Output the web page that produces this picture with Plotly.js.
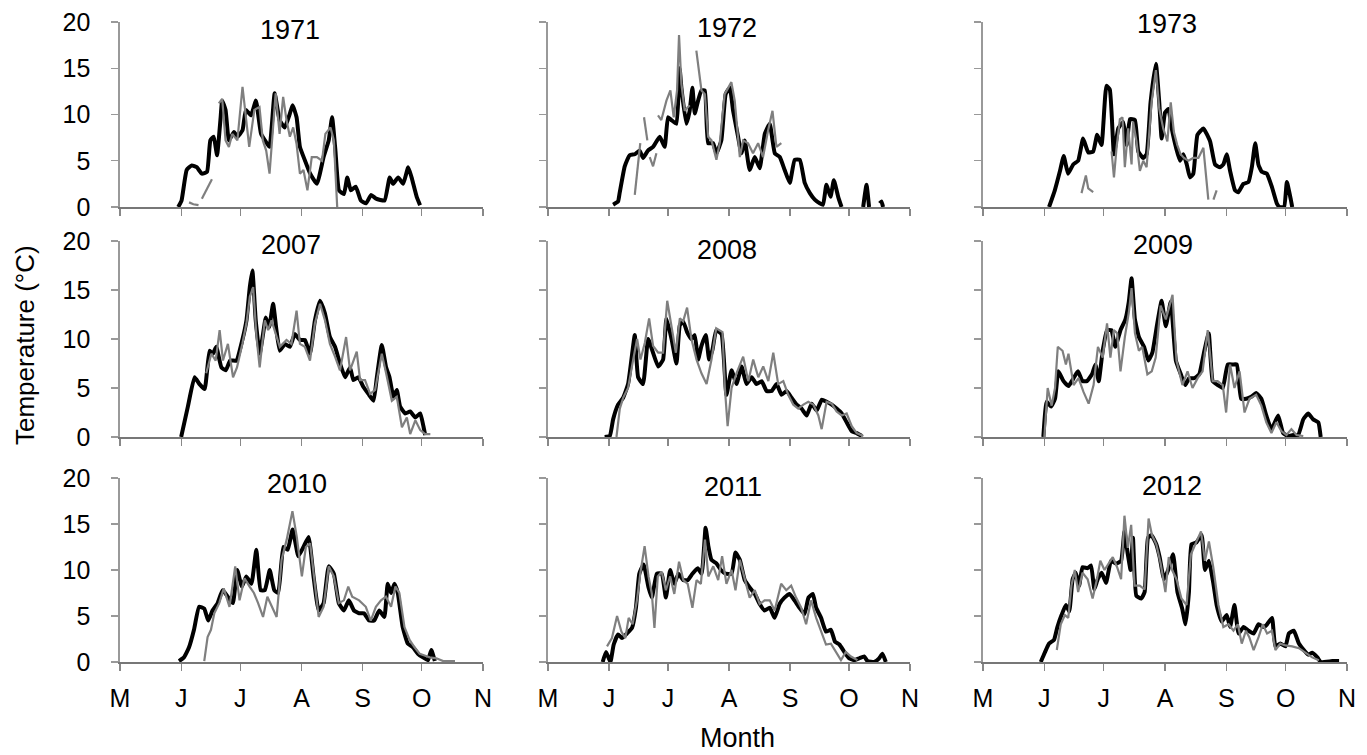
<!DOCTYPE html>
<html><head><meta charset="utf-8">
<script src="https://cdn.plot.ly/plotly-3.0.1.min.js"></script>
<style>html,body{margin:0;padding:0;background:#fff}#chart{width:1367px;height:755px}</style>
</head><body><div id="chart"></div>
<script>
// x = days since 1 May, y = temperature (°C); null = gap in the record
const years = ['1971','1972','1973','2007','2008','2009','2010','2011','2012'];
const monthTickVals = [0,31,61,92,123,153,184];
const monthTickText = ['M','J','J','A','S','O','N'];
const tempTickVals = [0,5,10,15,20];

const black1971 = [[29.5,0],[31.2,0.7],[33.8,4],[36.4,4.5],[38.9,4.3],[41.5,3.6],[44.1,3.8],[45.8,7.2],[47.5,7.6],[49.2,5.6],[50.9,9.4],[51.8,11.5],[53.5,10.5],[55.2,7.2],[57.8,8.1],[59.5,7.6],[62.1,8.3],[63.8,10.5],[66.4,9.9],[68.9,11.5],[71.5,7.9],[74.1,7.0],[75.8,6.5],[78.4,12.3],[80.9,9.4],[83.5,8.6],[86.1,10.1],[87.5,11],[89.5,9.7],[91.2,6.5],[93.8,5],[96.4,3.6],[99.8,2.5],[103.2,5.4],[105.8,7.2],[107.5,9.7],[109.2,6.1],[111,1.8],[113.5,1.4],[115.2,3.2],[117,1.8],[119.5,2.2],[122.1,0.7],[124.7,0.4],[127.3,1.3],[129.8,0.9],[134.1,0.7],[136.7,3.2],[138.4,2.5],[141,3.2],[143.5,2.5],[146.1,4.3],[147.8,3.2],[150.4,1.1],[152.1,0.2]];
const grey1971 = [[35,0.5],[37.2,0.3],[39.8,0.2],null,[41.5,0.9],[44.1,1.9],[46.6,3.0],null,[50.1,11.2],[51.8,11.7],[53.5,7.2],[55.2,6.5],[56.9,7.9],[59.5,7.2],[62.1,13],[62.9,11.5],[65.5,6.5],[68.1,10.5],[70.7,10.8],[72.4,7.2],[74.1,6.1],[75.8,3.6],[77.5,8.6],[78.9,12.3],[80.9,7.9],[82.7,11.9],[84.4,9.4],[86.1,7.6],[87.8,8.6],[89.5,6.8],[91.2,3.6],[93,4],[95,1.8],[97.2,5.4],[99.8,5.4],[102.4,5],[104.1,7.9],[106.7,8.6],[108.4,7.2],[110.1,0]];

const black1972 = [[33.1,0.25],[35.6,0.6],[36.4,1.5],[39,4.4],[41.5,5.6],[44.1,5.7],[46.6,6.1],[48.3,5.3],[50.8,6.1],[53.4,6.5],[56.8,7.6],[59.3,6.5],[61,9.7],[62.7,9.4],[65.3,9],[66.9,15],[67.8,12.9],[70.3,9],[72,10.4],[73.4,12.9],[74.6,10.1],[76.3,11.5],[78,12.6],[79.7,12.6],[81.4,6.9],[83.9,6.9],[85.6,5.8],[88.1,7.2],[90.3,12.2],[92.4,12.9],[94.1,10.4],[96.6,7.6],[98.3,5.8],[100,7.2],[102.5,4],[105.1,5.4],[107.6,4.2],[110.2,7.9],[112.7,9],[115.3,5.8],[117.8,5.4],[120.3,4],[122.9,2.6],[125.4,5.1],[128,5.1],[130.5,2.6],[133.1,1.5],[135.6,0.8],[138.1,0.4],[139.8,0.25],[141.5,2.4],[143.6,1.1],[145.3,2.9],[147.5,1.1],[149.2,0],null,[160.2,0],[161.9,2.4],[163.2,0],null,[168.6,0.4],[169.5,0.6],[170.3,0]];
const grey1972 = [[44.1,1.3],[46.9,6.9],null,[48.8,9.7],[50.5,7.2],null,[51.7,5.4],[53.4,4.4],[55.1,5.8],null,[55.9,9.9],[57.6,9.4],[60.2,11.5],[62.2,12.6],[63.9,9.7],[65.6,12.6],[66.6,18.6],[67.8,13.3],[69.5,10.4],[72,11],null,[75.4,16.9],[78,12.6],[79.7,12.2],[81.4,7.6],[83.1,7.2],[85.6,5.1],[87.3,6.9],[89.8,12.2],[93.2,13.5],[94.9,11.5],[97.5,5.4],[99.2,7.2],[101.7,6.9],[104.2,5.8],[106.8,6.9],[109.3,5.4],[111.9,8.3],[114.1,10.4],[116.1,6.5],[118.6,6.9]];

const black1973 = [[33.4,0],[36.3,1.8],[38.8,3.8],[40.8,5.5],[43,3.6],[45.6,4.6],[48.1,5],[50.6,7.4],[53.2,5.9],[55.7,6],[57.7,7.8],[59.9,6.7],[62.4,13.1],[64.1,12.7],[66.2,5.7],[68.4,8.5],[70.9,9.2],[72.6,6.7],[74.3,9.5],[76.8,9.4],[78.5,6],[81,5.3],[82.7,5.7],[84.7,11.3],[87.4,15.5],[89.1,11.3],[90.3,7.4],[92,10.2],[93.7,10.6],[95.4,8.5],[97.6,6.4],[99.6,5],[101.3,5.7],[103,4.6],[104.6,3.2],[106.3,3.6],[108.4,7.8],[111.4,8.5],[114.8,7.1],[117.3,4.6],[119.8,4.3],[121.5,4.6],[123.2,5.7],[124.9,3.9],[127.4,1.8],[129.1,1.6],[131.6,2.5],[134.2,2.7],[135.9,4.3],[137.6,6.9],[139.2,4.6],[140.9,3.8],[143.5,3.6],[146,2.2],[148.5,0.4],[149.9,0],[152.2,0],[153.6,2.7],[155.6,0.8],[156.3,0]];
const grey1973 = [[49.8,1.5],[52,3.4],[53.2,2],[55.7,1.6],null,[65,6],[66.2,3.2],[67.5,6.4],[69.2,9.5],[70.5,9.7],[71.7,4.3],[73.4,8.5],[75.1,4.6],[75.9,9.2],[77.6,7.1],[79.3,3.9],[81,5],[82.7,4.3],[85.2,11.3],[87.4,14.8],[89.1,10.6],[91.1,8.5],[93.2,7.1],[94.9,11.3],[96.5,8.1],[98.2,6.7],[99.9,5.7],[101.6,5.3],[103.8,5],[106.3,5.3],[108.9,5.3],[111.4,6.4],[113.9,0.8],null,[116.5,0.8],[118.1,1.8]];

const black2007 = [[31,0],[34.4,3.1],[37.8,6.1],[40.3,5.4],[42.9,4.9],[45.4,8.8],[47.1,8.5],[48.8,9.2],[51.4,7.1],[53.6,6.8],[55.9,7.8],[59,7.8],[62,9.9],[64.1,11.9],[65.8,15.3],[67.1,17],[68.8,11.9],[70.8,8.5],[72.5,10.5],[73.9,12.2],[75.6,11.2],[77.6,13.6],[79.3,10.9],[81,8.8],[83.6,9.5],[86.1,9.2],[88.6,10.5],[91.2,9.9],[93.7,9.9],[96.3,8.5],[98.8,11.9],[101.4,13.9],[103.9,12.6],[106.4,10.2],[109,9.2],[111.5,7.5],[114.1,6.1],[116.6,7.1],[118.3,5.8],[120.8,6.1],[123.4,5.1],[125.9,4.4],[128.5,3.7],[130.2,6.1],[132.7,9.4],[134.9,7.1],[136.6,6.1],[138.6,4.1],[140.3,4.8],[142,3.1],[144.6,2.4],[147.1,2.6],[149.7,2],[152.2,2.4],[153.9,1],[154.7,0.2]];
const grey2007 = [[43.7,6.5],[46.3,8.5],[48.5,7.8],[50.5,10.9],[52.2,7.8],[54.7,9.5],[57.3,6.1],[59.3,7.1],[62,9.5],[64.1,11.6],[65.8,14.3],[67.5,15.3],[69.2,10.2],[70.8,7.1],[73.4,11.9],[75.1,10.9],[76.8,11.9],[78.5,10.9],[81,9.2],[84.4,9.9],[86.9,9.5],[89.5,12.9],[91.2,9.5],[93.7,9.2],[96.3,7.8],[98.8,11.6],[101.4,13.6],[103.9,11.9],[106.4,9.5],[109,8.2],[111.5,6.8],[114.6,10.2],[116.6,6.8],[120,8.7],[121.7,5.8],[124.2,5.8],[126.8,4.4],[129.3,4.8],[132.7,8.5],[134.9,6.5],[137.8,3.7],[140.3,4.1],[142.9,1],[145.4,2],[147.1,0.3],[149.7,1.7],[152.2,0.7],[154.7,0.3],[157.3,0.3]];

const black2008 = [[28.8,0],[31.4,0.1],[33.1,1.8],[35.6,3.3],[38.2,4],[40.7,5.4],[42.4,7.9],[44.1,10.4],[45.8,6.1],[48.3,5.4],[50.9,10],[53.4,8.6],[56,7.2],[58.5,7.9],[60.2,12.1],[62.8,10],[65.3,7.5],[67,11.4],[68.7,11.8],[70.7,10.7],[72.9,10],[74.6,10.4],[76.3,7.9],[78,9.3],[80.2,10.4],[81.9,7.9],[83.6,8.9],[85.5,10.9],[88.2,10.5],[90.7,4.3],[93.3,6.8],[95.8,5.4],[98.4,7.2],[100.9,5.4],[103.5,6.1],[106,5.4],[108.6,5.7],[111.1,4.7],[113.7,4.7],[116.2,5.4],[118.7,4.3],[121.3,4.7],[123.8,4],[126.4,3.3],[128.9,2.9],[131.5,2.2],[134,3.4],[136.6,2.7],[139.1,3.8],[141.6,3.6],[144.2,3.3],[146.7,2.9],[149.3,2.4],[151.8,1.5],[154.4,0.6],[156.9,0.4],[159.5,0.1]];
const grey2008 = [[34.8,0],[36.5,2.9],[38.2,4],[40.7,5],[43.3,7.9],[45.3,10],[47,7.9],[49.2,9.6],[51.4,12.1],[53.4,9.3],[56,8.6],[58.5,8.6],[60.6,13.9],[62.8,11.1],[65,8.6],[67,12.1],[68.7,11.8],[70.7,13.2],[72.9,10],[75.5,7.9],[78,6.5],[80.6,5.4],[83.1,7.9],[85.5,11.1],[88.7,10.7],[89.9,5],[91.3,1.1],[93.3,5],[95.8,6.5],[99.2,8.2],[101.8,5.7],[104.3,7.9],[106.9,6.1],[109.4,7.2],[112,5.7],[114.5,8.6],[117,5.4],[119.6,5.7],[122.1,4.3],[124.7,3.3],[127.2,2.9],[129.8,3.3],[132.3,3.6],[134.9,3.3],[137.4,2.2],[139.1,0.8],[141.6,3.6],[144.2,3.4],[146.7,2.6],[149.3,2.2],[151.8,2.4],[154.4,1.1],[156.9,0.4],[160.3,0.1]];

const black2009 = [[30.5,0],[32.2,3.6],[34.4,3.1],[36.4,3.9],[38.1,6.7],[40.7,5.7],[43.2,5.2],[45.8,6],[48,6.7],[50.3,5.7],[52.5,5.7],[55.1,6.4],[56.8,7.4],[58.5,5.7],[60.5,8.8],[62.7,10.9],[64.9,10.9],[66.9,9.2],[69.5,10.9],[72,12],[73.7,13.8],[75.1,16.2],[76.8,12],[78.8,10.2],[81.4,9.2],[83.6,7.8],[85.6,8.6],[88.1,11.6],[90.3,13.9],[92.4,11.3],[94.9,13.8],[97.5,7.8],[100,6.4],[102.2,5.3],[104.2,6],[106.8,6],[109.3,6.4],[111.9,8.8],[114.1,10.6],[116.1,5.7],[118.6,5.3],[121.2,5],[123.7,7.4],[126.3,7.4],[128.3,7.4],[130.5,3.9],[133.1,3.9],[135.6,4.1],[138.1,4.5],[140.7,3.9],[143.2,2.2],[145.8,0.8],[149.2,2.2],[151.7,0.4],[154.2,0.1],[156.8,0.2],[159.3,0.2],[161.9,1.8],[164.4,2.4],[166.9,1.8],[169.5,1.5],[170.7,0]];
const grey2009 = [[31,0],[32.7,5],[34.7,3.2],[36.4,5],[37.8,9.2],[40.2,8.8],[41.9,7.4],[43.2,8.5],[45.8,5.3],[48.3,6],[50.8,4.6],[53.4,3.4],[55.9,5.3],[58.1,9.2],[60.5,8.1],[62.7,11.6],[64.4,8.1],[66.1,10.9],[67.8,10.6],[69.5,6.7],[71.7,10.2],[73.7,12.7],[75.1,15.2],[76.8,10.6],[78.8,8.8],[80.5,9.2],[83.1,6.4],[85.3,6.7],[87.3,8.1],[89.8,13.4],[92.4,12],[95.8,14.5],[97.8,7.8],[100.8,5.3],[103.4,6.7],[105.9,5],[108.5,6],[111,6.7],[113.6,10.9],[116.1,5.7],[118.6,5.7],[121.2,5.3],[122.9,2.5],[124.9,7.4],[127.1,5],[129.7,6.7],[132.2,2.5],[134.7,3.9],[138.1,4.3],[140.7,3.2],[143.2,1.5],[145.8,0.4],[148.3,1.5],[150.8,0.6],[153.4,0.2],[155.9,0.8],[158.5,0.2],[161.9,0.1]];

const black2010 = [[29.9,0.1],[32.4,0.5],[35,1.6],[37.5,3.5],[40.1,6],[42.7,5.8],[44.7,4.5],[46.9,5.6],[49.5,6.4],[52,7.8],[54.6,7.1],[57.2,6.4],[59.4,10],[61.8,8.2],[64,9.3],[66.6,8.5],[69.1,12.2],[71.3,7.8],[73.4,7.8],[75.9,10],[78.2,7.8],[80.2,7.5],[82.8,12.5],[85,12.2],[87.5,14.4],[90.4,11.5],[93,12.5],[95.6,13.6],[98.1,9.3],[100.7,5.6],[103.2,6.4],[105.8,10.4],[108.4,9.6],[110.9,6.4],[113.5,5.6],[116,6.7],[118.6,5.6],[121.2,5.3],[123.7,5.3],[126.3,4.5],[128.8,4.5],[131.4,5.6],[134,4.9],[135.7,8.5],[137.4,7.5],[139.1,8.5],[140.8,7.5],[143.3,3.8],[145.9,2],[148.5,1.6],[151,0.9],[153.6,0.5],[156.1,0.2],[157.8,1.3],[159.6,0.1]];
const grey2010 = [[42.7,0.1],[44.4,2.7],[46.1,3.5],[47.8,5.3],[50.3,6.4],[52.6,8],[55.5,6],[58.4,10.4],[60.6,6.7],[63.1,9.1],[65.7,8.2],[67.9,7.5],[70,6.4],[72.5,4.9],[74.7,7.1],[77.1,6],[79.4,4.9],[81.9,11.1],[84.5,13.3],[87.4,16.4],[89.6,13.6],[92.2,9.3],[94.2,12.5],[96.4,12.9],[98.6,8.9],[100.7,4.9],[103.2,6],[105.8,10.4],[108.4,9.3],[110.9,6.4],[113.5,6.7],[115.7,8.2],[117.7,7.1],[121.2,6.7],[124.6,6],[127.1,4.5],[129.7,6],[132.3,6.7],[134.8,7.1],[137.4,6],[139.6,8.2],[141.6,7.5],[144.2,3.8],[146.8,2.4],[149.3,1.6],[151.9,0.9],[154.4,0.7],[157,0.5],[160.4,0.4],[163.8,0.1],[169.8,0.1]];

const black2011 = [[27.8,0],[29.5,1.1],[31.7,0],[33.4,1.9],[35.6,3],[37.6,2.6],[40.1,3.1],[42.7,3.7],[44.7,5.9],[46.4,9.6],[48.6,10.6],[51.1,8.1],[52.8,7],[55.3,9.6],[57.8,9.6],[59.9,7],[62.1,10],[64.2,8.5],[66.3,9.6],[68.8,8.9],[71,8.9],[73.4,9.6],[76.1,10.2],[78.1,9.6],[80.1,14.6],[81.5,12.6],[83.1,11.1],[85.7,10.7],[87.9,10],[90.2,9.6],[93.3,9.6],[95.3,11.9],[97.5,11.1],[100,8.9],[102.5,8.1],[105.1,7.4],[107.6,6.3],[110.1,5.6],[112.7,5.9],[115.2,4.8],[117.7,6.3],[120.2,7],[122.8,7.4],[125.3,6.7],[127.8,5.9],[130.4,5.2],[132.4,7],[134.6,7.4],[136.3,5.9],[138.8,4.8],[141.3,3.3],[143.8,3.5],[145.9,2.2],[148.1,1.9],[150.6,1.1],[153.1,0.4],[155.7,0.2],[158.2,0.4],[160.7,0.6],[162.4,0.1],[165.8,0],[168.3,0.4],[170,0.9],[171.7,0]];
const grey2011 = [[30,1.7],[32.5,2.6],[35.1,5],[37.3,3.3],[39.3,2.6],[41,4.8],[43,4.1],[45.2,6.7],[46.9,9.6],[49.1,12.6],[51.1,9.3],[52.8,7.4],[54.1,3.7],[55.8,9.3],[57.8,9.8],[59.9,7.8],[62.1,9.3],[64.2,7.4],[66.6,10.9],[68.8,8.9],[71,8.5],[73.4,5.9],[75.5,8.9],[77.7,8.5],[79.8,13.3],[81.5,9.3],[84,10.4],[86.5,8.9],[88.5,11.5],[90.7,8.5],[93.3,10],[95.3,7.8],[97.5,11.1],[100,8.9],[102.5,7],[105.1,7.8],[107.6,6.3],[110.1,6.7],[112.7,6.7],[115.2,5.6],[118.5,8.5],[121.1,7.8],[123.6,8.3],[126.1,7],[128.7,5.9],[131.2,4.1],[133.7,6.7],[136.3,4.8],[138.8,3.3],[141.3,1.9],[143.8,2],[146.4,1.1],[148.9,0.2],[151.4,1.1],[154,0.6],[157.3,0.2]];

const black2012 = [[29.2,0],[31.2,1],[33.4,2],[35.9,2.4],[37.6,3.8],[39.7,5.1],[41.9,6.2],[43.6,5.5],[45.3,9],[46.9,9.7],[48.6,8.3],[50.3,10.3],[52.9,10.2],[54.6,10.5],[56.3,7.9],[58,9],[60,9.7],[62.2,8.6],[64.7,11],[67.3,10.7],[69.8,11],[71.5,14.2],[73.2,11.7],[74.6,10],[75.8,13.5],[77.5,7.2],[80,6.9],[81.7,7.6],[83.4,13.5],[85.1,13.8],[87.6,12.8],[89.3,11.4],[91.5,9],[93.6,10],[96.1,11.7],[98.3,7.6],[100.7,5.8],[102.4,4.1],[104.1,7.6],[105.4,12.8],[107.9,13],[110.5,13.8],[112.2,10],[114.2,11],[116.4,8.6],[118.1,6.2],[120.7,4.4],[123.2,5.1],[124.9,3.8],[127.1,6.2],[129.2,3.1],[131.7,3.8],[134.2,3.4],[136.8,3.1],[139.3,4.1],[141.9,3.8],[143.6,4.1],[146.1,4.8],[147.8,1.7],[150.3,2],[152.9,1.7],[154.6,3.1],[157.1,3.4],[159.7,2],[162.2,1.3],[164.4,0.8],[166.4,1],[169,0.5],[170.7,0],[176.6,0.1],[180,0.1]];
const grey2012 = [[37.3,1.3],[39.3,4.1],[41.4,5.1],[43.1,4.8],[44.7,8.3],[46.4,10],[48.1,7.6],[50.3,9.7],[52.9,9],[55.4,6.9],[57.6,9],[59.3,11],[61.4,10],[63.4,10.7],[65.6,11.4],[67.8,10.3],[69.8,9],[71.5,15.9],[73.2,12.4],[74.9,14.9],[76.6,8.3],[79.2,8.3],[81.7,7.9],[83.7,15.6],[85.4,13.8],[87.6,12.8],[89.8,10.7],[92.2,7.6],[93.9,11.4],[95.6,10],[97.8,9],[100.3,6.9],[102.9,6.2],[105.1,11.7],[107.5,12.8],[110.2,14.2],[112.2,11],[114.2,13.1],[116.4,10.3],[119,6.2],[121.5,3.8],[124.1,4.1],[126.6,3.4],[128.8,4.1],[130.8,2],[132.9,3.4],[134.6,2.7],[136.8,1.3],[139.3,2.7],[141.4,4.1],[143.6,3.1],[146.1,3.4],[147.8,1.3],[150.3,2],[152.9,1.8],[156.3,1.7],[159.7,1.5],[163.1,1],[166.4,0.5],[169.8,0.2]];

const blackSeries = [black1971,black1972,black1973,black2007,black2008,black2009,black2010,black2011,black2012];
const greySeries = [grey1971,grey1972,grey1973,grey2007,grey2008,grey2009,grey2010,grey2011,grey2012];

// ---------- layout (pixels in the 1367x755 page) ----------
const W = 1367, H = 755;
const colPx = [[120,483],[548,910],[983,1347]];
const rowPx = [[22,207],[241,437],[478,662]];
const titlePx = [[290,30],[727,28],[1167,24],[291,245],[727,250],[1163,245],[297,484],[733,487],[1172,486]];
const FONT = '"Liberation Sans", Arial, Helvetica, sans-serif';

const xs = s => s.map(p => p ? p[0] : null);
const ys = s => s.map(p => p ? p[1] : null);

const traces = [];
const layout = {
  width: W, height: H,
  margin: {l:0, r:0, t:0, b:0},
  showlegend: false,
  paper_bgcolor: '#ffffff',
  plot_bgcolor: 'rgba(0,0,0,0)',
  font: {family: FONT, color: '#000'},
  annotations: []
};

years.forEach((yr, i) => {
  const r = Math.floor(i / 3), c = i % 3;
  const xa = 'x' + (i + 1), ya = 'y' + (i + 1);
  const xk = i === 0 ? 'xaxis' : 'xaxis' + (i + 1);
  const yk = i === 0 ? 'yaxis' : 'yaxis' + (i + 1);
  traces.push({type:'scatter', mode:'lines', x: xs(blackSeries[i]), y: ys(blackSeries[i]),
    xaxis: xa, yaxis: ya, connectgaps: false, hoverinfo: 'skip',
    line: {color:'#000000', width:4, shape:'spline', smoothing:0.4}});
  traces.push({type:'scatter', mode:'lines', x: xs(greySeries[i]), y: ys(greySeries[i]),
    xaxis: xa, yaxis: ya, connectgaps: false, hoverinfo: 'skip',
    line: {color:'#7f7f7f', width:2.2}});
  layout[xk] = {
    domain: [colPx[c][0] / W, colPx[c][1] / W], range: [0, 184], anchor: ya,
    tickmode: 'array', tickvals: monthTickVals, ticktext: monthTickText,
    showticklabels: r === 2, ticks: 'outside', ticklen: 7, tickwidth: 1.3, tickcolor: '#888',
    showline: true, linecolor: '#777', linewidth: 1.6, showgrid: false, zeroline: false,
    tickfont: {family: FONT, size: 25, color: '#000'}, ticklabelstandoff: 6, fixedrange: true
  };
  layout[yk] = {
    domain: [1 - rowPx[r][1] / H, 1 - rowPx[r][0] / H], range: [0, 20], anchor: xa,
    tickmode: 'array', tickvals: tempTickVals,
    showticklabels: c === 0, ticks: 'outside', ticklen: 7, tickwidth: 1.3, tickcolor: '#999',
    showline: true, linecolor: '#999', linewidth: 1.6, showgrid: false, zeroline: false,
    tickfont: {family: FONT, size: 25, color: '#000'}, ticklabelstandoff: 16, fixedrange: true
  };
  layout.annotations.push({
    text: yr, xref: 'paper', yref: 'paper',
    x: titlePx[i][0] / W, y: 1 - titlePx[i][1] / H,
    xanchor: 'center', yanchor: 'middle', showarrow: false,
    font: {family: FONT, size: 27, color: '#000'}
  });
});

layout.annotations.push({
  text: 'Temperature (°C)', xref: 'paper', yref: 'paper',
  x: 25 / W, y: 1 - 345 / H, xanchor: 'center', yanchor: 'middle',
  textangle: -90, showarrow: false, font: {family: FONT, size: 26, color: '#000'}
});
layout.annotations.push({
  text: 'Month', xref: 'paper', yref: 'paper',
  x: 737 / W, y: 1 - 738 / H, xanchor: 'center', yanchor: 'middle',
  showarrow: false, font: {family: FONT, size: 27, color: '#000'}
});

Plotly.newPlot('chart', traces, layout, {staticPlot: true, displayModeBar: false});
</script>
</body></html>
